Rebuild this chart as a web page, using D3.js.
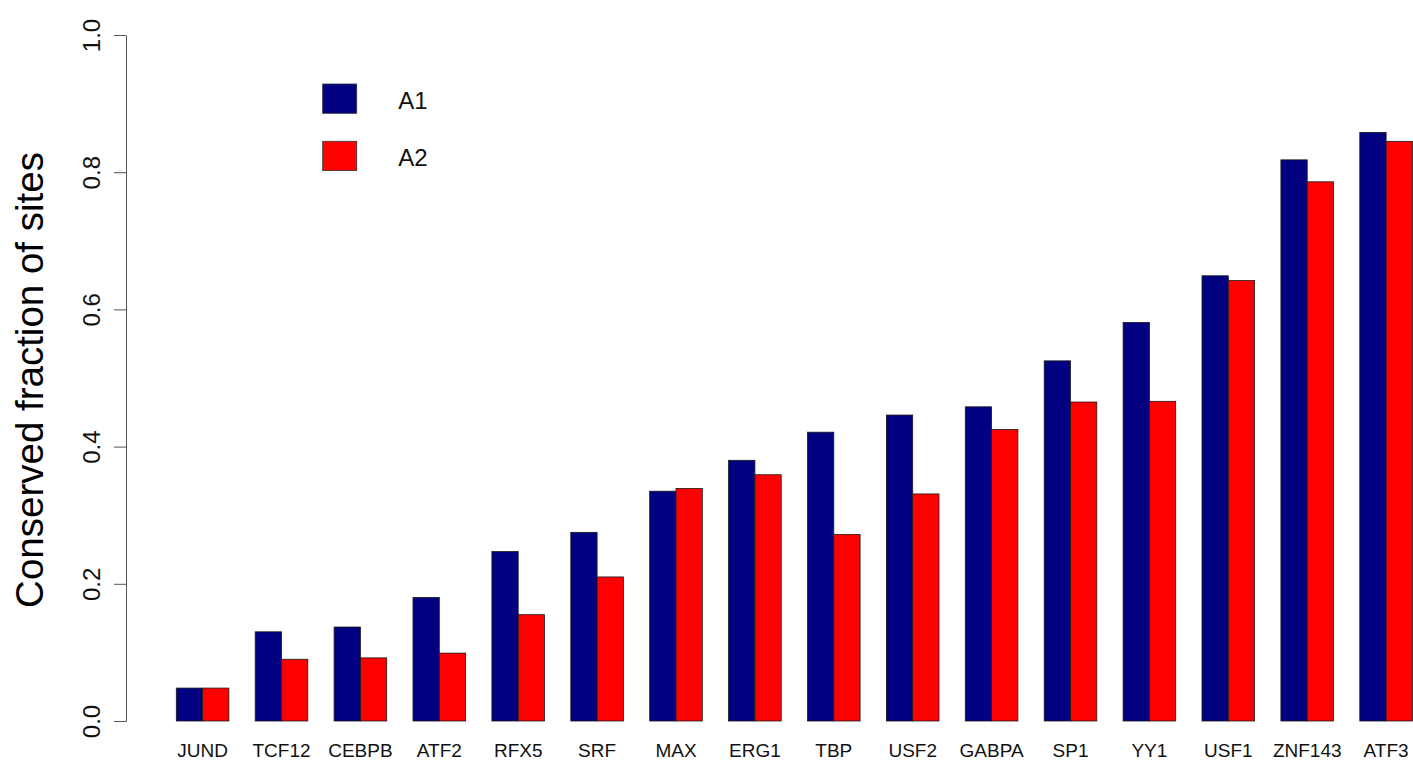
<!DOCTYPE html>
<html>
<head>
<meta charset="utf-8">
<script src="https://cdn.jsdelivr.net/npm/d3@7"></script>
<style>
  html, body { margin: 0; padding: 0; background: #fff; }
  svg { display: block; font-family: "Liberation Sans", Arial, Helvetica, sans-serif; }
</style>
</head>
<body>
<svg id="chart" width="1413" height="761"></svg>
<script>
// Transcription factors, ordered by A1 conservation
const categories = ["JUND", "TCF12", "CEBPB", "ATF2", "RFX5", "SRF", "MAX", "ERG1",
                    "TBP", "USF2", "GABPA", "SP1", "YY1", "USF1", "ZNF143", "ATF3"];
const seriesNames = ["A1", "A2"];
const a1Values = [0.048, 0.130, 0.137, 0.180, 0.247, 0.275, 0.335, 0.380,
                  0.421, 0.446, 0.458, 0.525, 0.581, 0.649, 0.818, 0.858];
const a2Values = [0.048, 0.090, 0.092, 0.099, 0.155, 0.210, 0.339, 0.359,
                  0.272, 0.331, 0.425, 0.465, 0.466, 0.642, 0.786, 0.845];
const yTicks = [0.0, 0.2, 0.4, 0.6, 0.8, 1.0];
const yLabel = "Conserved fraction of sites";

const colors = { A1: "#000080", A2: "#ff0000" };

const svg = d3.select("#chart");

const rows = categories.map((c, i) => ({ name: c, A1: a1Values[i], A2: a2Values[i] }));

const axisX = 126;
const y = d3.scaleLinear().domain([0, 1]).range([721, 35]);

// Outer band: one group per factor; inner band: the two series side by side
const x0 = d3.scaleBand()
  .domain(categories)
  .range([176.3, 1412.4])
  .paddingInner(1 / 3)
  .paddingOuter(0);
const x1 = d3.scaleBand()
  .domain(seriesNames)
  .range([0, x0.bandwidth()])
  .padding(0);

// Bars
const groups = svg.append("g").attr("class", "bars")
  .selectAll("g")
  .data(rows)
  .join("g")
  .attr("transform", d => `translate(${x0(d.name)},0)`);

groups.selectAll("rect")
  .data(d => seriesNames.map(s => ({ key: s, value: d[s] })))
  .join("rect")
  .attr("x", d => x1(d.key))
  .attr("y", d => y(d.value))
  .attr("width", x1.bandwidth())
  .attr("height", d => y(0) - y(d.value))
  .attr("fill", d => colors[d.key])
  .attr("stroke", "#1a1a1a")
  .attr("stroke-width", 0.8);

// Category labels under each group
svg.append("g").attr("class", "x-labels")
  .selectAll("text")
  .data(categories)
  .join("text")
  .attr("x", d => x0(d) + x0.bandwidth() / 2)
  .attr("y", 756.5)
  .attr("text-anchor", "middle")
  .attr("font-size", 19)
  .attr("fill", "#111")
  .text(d => d);

// Y axis with labels parallel to the axis
const yAxis = svg.append("g")
  .attr("transform", `translate(${axisX},0)`)
  .call(d3.axisLeft(y)
    .tickValues(yTicks)
    .tickFormat(d3.format(".1f"))
    .tickSize(12)
    .tickSizeOuter(0));

yAxis.select(".domain").attr("stroke", "#555").attr("stroke-width", 1);
yAxis.selectAll(".tick line").attr("stroke", "#555").attr("stroke-width", 1);
yAxis.selectAll(".tick text")
  .attr("transform", "rotate(-90)")
  .attr("x", 0)
  .attr("y", -26)
  .attr("dy", 0)
  .attr("text-anchor", "middle")
  .attr("font-size", 24)
  .attr("font-family", "\"Liberation Sans\", Arial, sans-serif")
  .attr("fill", "#111");

// Y axis title
svg.append("text")
  .attr("transform", "translate(43,380) rotate(-90)")
  .attr("text-anchor", "middle")
  .attr("font-size", 38.5)
  .attr("fill", "#000")
  .text(yLabel);

// Legend
const legend = svg.append("g").attr("class", "legend")
  .selectAll("g")
  .data(seriesNames)
  .join("g")
  .attr("transform", (d, i) => `translate(322.7,${84 + i * 57.3})`);

legend.append("rect")
  .attr("width", 34)
  .attr("height", 29.3)
  .attr("fill", d => colors[d])
  .attr("stroke", "#333")
  .attr("stroke-width", 0.8);

legend.append("text")
  .attr("x", 75.6)
  .attr("y", 25)
  .attr("font-size", 24)
  .attr("fill", "#111")
  .text(d => d);
</script>
</body>
</html>
